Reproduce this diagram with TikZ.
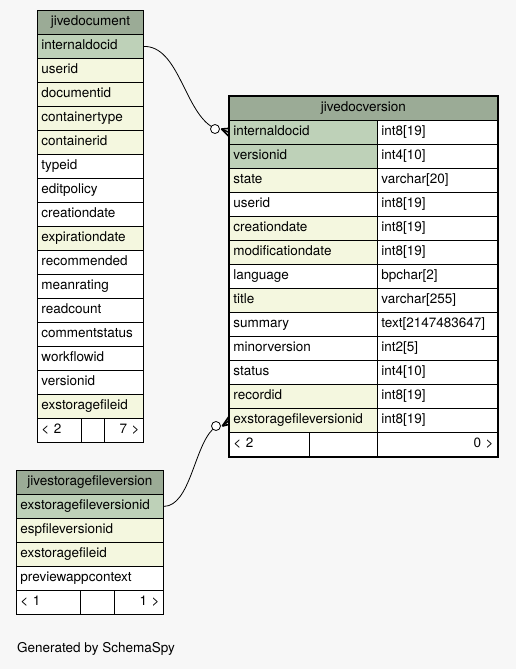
\documentclass[tikz,border=0pt]{standalone}
\usepackage{fontspec}
\setmainfont{TeX Gyre Heros}
\usepackage{tikz}
\usetikzlibrary{positioning, calc}
\definecolor{headcol}{HTML}{9BAB96}
\definecolor{pkcol}{HTML}{BED1B8}
\definecolor{idxcol}{HTML}{F4F7DF}
\definecolor{bgcol}{HTML}{F7F7F7}

\begin{document}
\begin{tikzpicture}[
    x=1pt, y=-1pt,
    cell/.style={rectangle, draw, line width=0.8pt, anchor=north west, minimum height=24pt, inner xsep=4pt, inner ysep=0pt, text height=10pt, text depth=3pt, align=left, font=\fontsize{13.5}{16}\selectfont},
    head/.style={cell, fill=headcol, align=center},
    link/.style={line width=0.8pt},
    crow/.style={line width=1.6pt},
    knot/.style={circle, draw, line width=0.8pt, fill=white, inner sep=0pt, minimum size=9pt}
]
\fill[bgcol] (0,0) rectangle (516,669);

% jivedocument
\node[head, text width=98pt] (doc) at (37,10) {jivedocument};
\foreach \name/\col [count=\i] in {internaldocid/pkcol, userid/idxcol, documentid/idxcol, containertype/idxcol, containerid/idxcol, typeid/white, editpolicy/white, creationdate/white, expirationdate/idxcol, recommended/white, meanrating/white, readcount/white, commentstatus/white, workflowid/white, versionid/white, exstoragefileid/idxcol}
    \node[cell, fill=\col, text width=98pt] (doc\i) at (37,10+24*\i) {\name};
\node[cell, fill=white, text width=36pt] (docl) at (37,418) {< 2};
\node[cell, fill=white, text width=15pt] (docm) at (81,418) {};
\node[cell, fill=white, text width=31pt, align=right] (docr) at (104,418) {7 >};

% jivedocversion
\node[head, text width=260pt] (ver) at (229,96) {jivedocversion};
\foreach \name/\col/\type [count=\i] in {internaldocid/pkcol/int8[19], versionid/pkcol/int4[10], state/idxcol/varchar[20], userid/white/int8[19], creationdate/idxcol/int8[19], modificationdate/idxcol/int8[19], language/white/bpchar[2], title/idxcol/varchar[255], summary/white/text[2147483647], minorversion/white/int2[5], status/white/int4[10], recordid/idxcol/int8[19], exstoragefileversionid/idxcol/int8[19]}
{
    \node[cell, fill=\col, text width=140pt] (ver\i) at (229,96+24*\i) {\name};
    \node[cell, fill=white, text width=112pt] (vert\i) at (377,96+24*\i) {\type};
}
\node[cell, fill=white, text width=72pt] (verl) at (229,432) {< 2};
\node[cell, fill=white, text width=60pt] (verm) at (309,432) {};
\node[cell, fill=white, text width=112pt, align=right] (verr) at (377,432) {0 >};
\draw[line width=2.5pt] (ver.north west) rectangle (verr.south east);

% jivestoragefileversion
\node[head, text width=139pt] (sto) at (16,470) {jivestoragefileversion};
\foreach \name/\col [count=\i] in {exstoragefileversionid/pkcol, espfileversionid/idxcol, exstoragefileid/idxcol, previewappcontext/white}
    \node[cell, fill=\col, text width=139pt] (sto\i) at (16,470+24*\i) {\name};
\node[cell, fill=white, text width=56pt] (stol) at (16,590) {< 1};
\node[cell, fill=white, text width=26pt] (stom) at (80,590) {};
\node[cell, fill=white, text width=41pt, align=right] (stor) at (114,590) {1 >};

% relationships
\node[knot] (k1) at (215,129) {};
\node[knot] (k2) at (216,426) {};
\draw[link] (doc1.east) .. controls (178,46) and (184,108) .. (k1);
\draw[link] (sto1.east) .. controls (190,506) and (194,448) .. (k2);
\foreach \k/\r in {k1/ver1, k2/ver13}
{
    \draw[crow] ($(\k.east)+(1.5,0)$) -- ($(\r.west)+(0,-4)$);
    \draw[crow] ($(\k.east)+(1.5,0)$) -- (\r.west);
    \draw[crow] ($(\k.east)+(1.5,0)$) -- ($(\r.west)+(0,4)$);
}

\node[anchor=west, inner sep=0pt, font=\fontsize{13.5}{16}\selectfont] (gen) at (17,649) {Generated by SchemaSpy};
\end{tikzpicture}
\end{document}
